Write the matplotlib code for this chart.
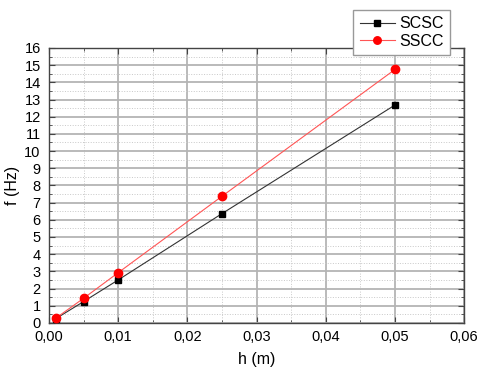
import numpy as np
import matplotlib.pyplot as plt
from matplotlib.ticker import MultipleLocator, FuncFormatter

plt.rcParams['font.family'] = ['Liberation Sans', 'DejaVu Sans']

h = [0.001, 0.005, 0.01, 0.025, 0.05]
f_scsc = [0.25, 1.24, 2.5, 6.36, 12.68]
f_sscc = [0.28, 1.43, 2.92, 7.37, 14.75]

fig = plt.figure(figsize=(4.8, 3.72), dpi=100)
ax = fig.add_axes([0.102, 0.132, 0.865, 0.739])

ax.plot(h, f_scsc, color='#333333', lw=0.8, marker='s', ms=5,
        mfc='black', mec='black', label='SCSC', zorder=3)
ax.plot(h, f_sscc, color='#ff5555', lw=0.8, marker='o', ms=6,
        mfc='red', mec='red', label='SSCC', zorder=3)

ax.set_xlim(0, 0.06)
ax.set_ylim(0, 16)
ax.xaxis.set_major_locator(MultipleLocator(0.01))
ax.xaxis.set_minor_locator(MultipleLocator(0.005))
ax.yaxis.set_major_locator(MultipleLocator(1))
ax.yaxis.set_minor_locator(MultipleLocator(0.5))
ax.xaxis.set_major_formatter(FuncFormatter(lambda v, p: f'{v:.2f}'.replace('.', ',')))

ax.grid(which='major', color='#b4b4b4', lw=1.3, ls='-')
ax.grid(which='minor', color='#c8c8c8', lw=0.7, ls=':')
ax.set_axisbelow(True)

ax.tick_params(which='both', direction='in', top=True, right=True,
               labelsize=10.5, color='#444444')
ax.tick_params(which='major', length=4)
ax.tick_params(which='minor', length=2.5)
ax.tick_params(axis='y', pad=6)
ax.tick_params(axis='x', pad=5)
for s in ax.spines.values():
    s.set_color('#444444')
    s.set_linewidth(1.0)

ax.set_xlabel('h (m)', fontsize=11.5, labelpad=6)
ax.set_ylabel('f (Hz)', fontsize=11.5, labelpad=3)

fig.legend(loc='upper right', bbox_to_anchor=(0.955, 0.995), fontsize=11.5,
           fancybox=False, edgecolor='#999999', framealpha=1,
           handlelength=2.2, handletextpad=0.3, borderpad=0.4,
           labelspacing=0.15, markerscale=0.9)

fig.savefig('out.png', dpi=100)
